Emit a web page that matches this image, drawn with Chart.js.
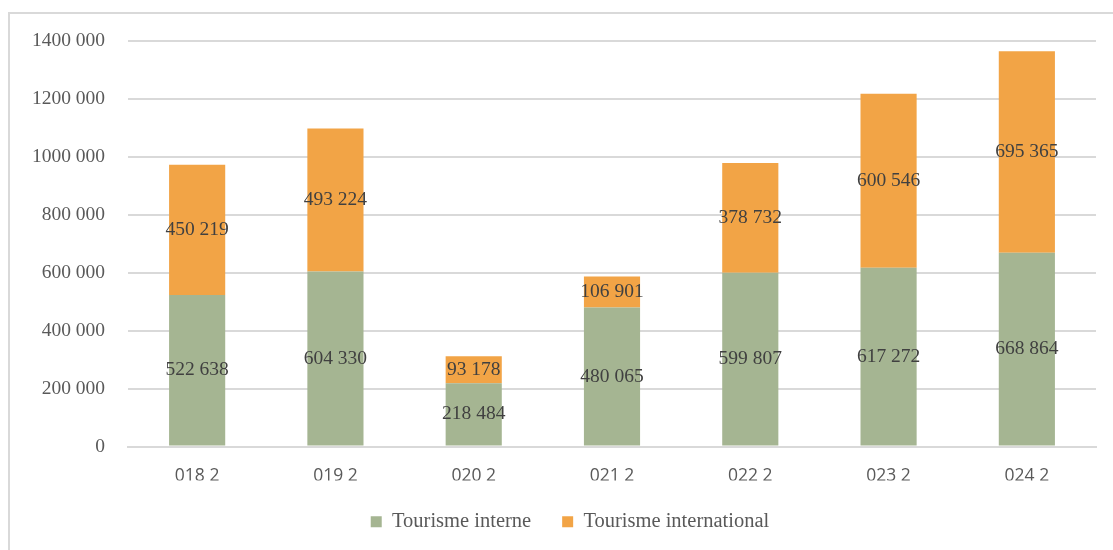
<!DOCTYPE html>
<html>
<head>
<meta charset="utf-8">
<script src="https://cdn.jsdelivr.net/npm/chart.js@4/dist/chart.umd.min.js"></script>
<style>
  html, body { margin: 0; padding: 0; background: #fff; }
  #frame { position: absolute; left: 8px; top: 12px; width: 1105px; height: 538px;
           border-left: 2px solid #d9d9d9; border-top: 2px solid #d9d9d9; box-sizing: border-box; }
  #wrap { position: absolute; left: 0; top: 0; width: 1113px; height: 550px; }
</style>
</head>
<body>
<div id="frame"></div>
<div id="wrap"><canvas id="chart" width="1113" height="550"></canvas></div>
<script>
// values
var years = ["018 2", "019 2", "020 2", "021 2", "022 2", "023 2", "024 2"];
var interne = [522638, 604330, 218484, 480065, 599807, 617272, 668864];
var international = [450219, 493224, 93178, 106901, 378732, 600546, 695365];

// the source only splits off the last three digits ("1400 000")
function fmt(v) {
    var s = String(v);
    if (s.length <= 3) return s;
    return s.slice(0, -3) + " " + s.slice(-3);
}

// write each value in the middle of its segment
var valueLabels = {
    id: 'valueLabels',
    afterDatasetsDraw: function(chart) {
        var ctx = chart.ctx;
        ctx.save();
        ctx.font = '19.5px "Liberation Serif", serif';
        ctx.fillStyle = '#404040';
        ctx.textAlign = 'center';
        ctx.textBaseline = 'middle';
        chart.data.datasets.forEach(function(ds, i) {
            var meta = chart.getDatasetMeta(i);
            meta.data.forEach(function(bar, j) {
                var y = (bar.y + bar.base) / 2;
                ctx.fillText(fmt(ds.data[j]), bar.x, y);
            });
        });
        ctx.restore();
    }
};

// legend in the source sits a bit right of the middle
var legendShift = {
    id: 'legendShift',
    afterLayout: function(chart) {
        chart.legend.left += 22;
        chart.legend.right += 22;
    }
};

var ctx = document.getElementById('chart').getContext('2d');
var chart = new Chart(ctx, {
    type: 'bar',
    data: {
        labels: years,
        datasets: [{
            label: "Tourisme interne",
            backgroundColor: '#A5B592',
            data: interne,
            categoryPercentage: 1,
            barPercentage: 0.406
        }, {
            label: "Tourisme international",
            backgroundColor: '#F2A446',
            data: international,
            categoryPercentage: 1,
            barPercentage: 0.406
        }]
    },
    options: {
        responsive: false,
        animation: false,
        layout: { padding: { left: 0, right: 17, top: 41, bottom: 8 } },
        plugins: {
            tooltip: { enabled: false },
            legend: {
                position: 'bottom',
                labels: {
                    boxWidth: 11,
                    boxHeight: 11,
                    padding: 31,
                    color: '#595959',
                    font: { family: '"Liberation Serif", serif', size: 20.5 }
                }
            }
        },
        scales: {
            x: {
                stacked: true,
                afterFit: function(scale) { scale.height = 34; },
                grid: { display: false, drawTicks: false },
                border: { color: '#d9d9d9', width: 2 },
                ticks: {
                    color: '#595959',
                    padding: 19,
                    font: { family: '"Open Sans", sans-serif', size: 17.5 }
                }
            },
            y: {
                stacked: true,
                min: 0,
                max: 1400000,
                afterFit: function(scale) { scale.width = 128; },
                grid: { color: '#d9d9d9', lineWidth: 2, drawTicks: false },
                border: { display: false },
                ticks: {
                    stepSize: 200000,
                    padding: 23,
                    color: '#595959',
                    font: { family: '"Liberation Serif", serif', size: 19.5 },
                    callback: function(v) { return fmt(v); }
                }
            }
        }
    },
    plugins: [valueLabels, legendShift]
});
</script>
</body>
</html>
